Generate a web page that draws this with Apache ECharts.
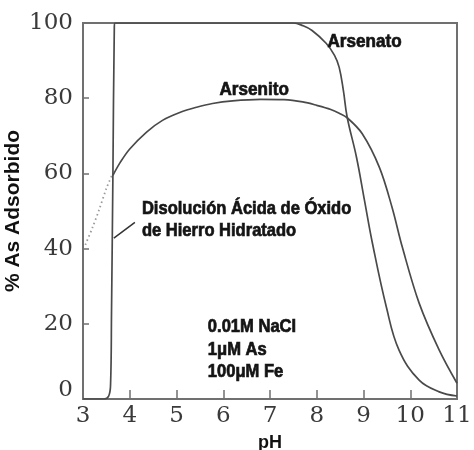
<!DOCTYPE html>
<html>
<head>
<meta charset="utf-8">
<script src="https://cdn.jsdelivr.net/npm/echarts@6/dist/echarts.min.js"></script>
<style>
  html, body { margin: 0; padding: 0; background: #fff; }
  #chart { width: 474px; height: 450px; }
</style>
</head>
<body>
<div id="chart"></div>
<script>
// Adsorption of arsenic species on hydrated iron oxide vs pH
const xTicks = [3, 4, 5, 6, 7, 8, 9, 10, 11];
const yTicks = [0, 20, 40, 60, 80, 100];

// Arsenate (As V) — % adsorbed
const arsenato = [
  [3.0, 0], [3.45, 0], [3.55, 0.8], [3.59, 4], [3.61, 23], [3.64, 60], [3.67, 99],
  [3.69, 100], [7.5, 100], [7.7, 99.3], [7.9, 98], [8.2, 94.6], [8.38, 91.4],
  [8.48, 88.2], [8.57, 82], [8.65, 75], [8.85, 64.3], [9.02, 52.9], [9.19, 41.5],
  [9.49, 24.4], [9.76, 13], [10.19, 5], [10.62, 1.9], [11.0, 0.8]
];

// Arsenite (As III) — % adsorbed
const arsenito = [
  [3.64, 59.5], [3.8, 63], [4.0, 66.5], [4.36, 71], [4.7, 74.1], [5.07, 76.2],
  [5.43, 77.6], [5.77, 78.6], [6.2, 79.3], [6.8, 79.7], [7.3, 79.6], [7.7, 79],
  [8.0, 78.1], [8.3, 77], [8.48, 76], [8.65, 74.8], [8.97, 70.6], [9.34, 61.6],
  [9.61, 51], [9.83, 40.4], [10.19, 25.5], [10.62, 13], [11.0, 4.2]
];

// Dotted extension of the arsenite curve at low pH (oxide dissolution zone)
const arsenitoDisuelto = [[3.05, 41], [3.2, 45.5], [3.35, 50.5], [3.5, 56], [3.62, 59.5]];

const curveLabels = ['Arsenato', 'Arsenito'];
const notaDisolucion = ['Disolución Ácida de Óxido', 'de Hierro Hidratado'];
const condiciones = ['0.01M NaCl', '1μM As', '100μM Fe'];

const chart = echarts.init(document.getElementById('chart'), null, { renderer: 'canvas' });

const serif = '"DejaVu Serif", serif';
const tickFont = { fontFamily: serif, fontSize: 23, color: '#3a3a3a' };

chart.setOption({
  animation: false,
  backgroundColor: '#fff',
  grid: {
    left: 83, right: 17, top: 23, bottom: 51,
    containLabel: false, outerBoundsMode: 'none',
    show: true, borderColor: '#707070', borderWidth: 2, backgroundColor: 'transparent'
  },
  xAxis: {
    type: 'value', min: xTicks[0], max: xTicks[xTicks.length - 1], interval: 1,
    name: 'pH', nameLocation: 'middle', nameGap: 35, nameMoveOverlap: false,
    nameTextStyle: { fontFamily: '"Liberation Sans", sans-serif', fontWeight: 'bold', fontSize: 18, color: '#111' },
    axisLine: { show: true, onZero: false, lineStyle: { color: '#707070', width: 2 } },
    axisTick: { show: true, inside: true, length: 9, lineStyle: { color: '#707070', width: 1.5 } },
    axisLabel: Object.assign({ margin: 6 }, tickFont),
    splitLine: { show: false }
  },
  yAxis: {
    type: 'value', min: yTicks[0], max: yTicks[yTicks.length - 1], interval: 20,
    name: '% As Adsorbido', nameLocation: 'middle', nameGap: 59, nameRotate: 90, nameMoveOverlap: false,
    nameTextStyle: { fontFamily: '"Liberation Sans", sans-serif', fontWeight: 'bold', fontSize: 21, color: '#111' },
    axisLine: { show: true, lineStyle: { color: '#707070', width: 2 } },
    axisTick: { show: true, inside: true, length: 6, lineStyle: { color: '#707070', width: 1.5 } },
    axisLabel: Object.assign({
      margin: 10,
      formatter: v => v === 0 ? '{z|0}' : String(v),
      rich: { z: Object.assign({ padding: [0, 0, 18, 0] }, tickFont) }
    }, tickFont),
    splitLine: { show: false }
  },
  series: [
    {
      name: curveLabels[0], type: 'line', data: arsenato, smooth: 0.4,
      symbol: 'none', lineStyle: { color: '#4a4a4a', width: 1.7 }, z: 3
    },
    {
      name: curveLabels[1], type: 'line', data: arsenito, smooth: 0.35,
      symbol: 'none', lineStyle: { color: '#4a4a4a', width: 1.7 }, z: 3
    },
    {
      name: 'disolucion', type: 'line', data: arsenitoDisuelto, smooth: 0.3, symbol: 'none',
      lineStyle: { color: '#9a9a9a', width: 1.8, type: [1.5, 3] }, z: 2
    }
  ]
});

// Annotations placed in data coordinates and converted to pixels
const px = (x, y) => chart.convertToPixel({ gridIndex: 0 }, [x, y]);
const boldFont = size => 'bold ' + size + 'px "Liberation Sans", Arial, sans-serif';

function label(text, x, y, size, sx) {
  const p = px(x, y);
  return {
    type: 'text', x: p[0], y: p[1], scaleX: sx, z: 10,
    style: {
      text: text, font: boldFont(size), fill: '#141414',
      stroke: '#141414', lineWidth: 0.7,
      textAlign: 'left', textVerticalAlign: 'middle'
    }
  };
}

const a = px(4.11, 47.0), b = px(3.66, 42.8);
chart.setOption({
  graphic: [
    label(curveLabels[0], 8.23, 95.1, 19, 0.9),
    label(curveLabels[1], 5.92, 82.3, 19, 0.9),
    label(notaDisolucion[0], 4.26, 50.6, 19, 0.87),
    label(notaDisolucion[1], 4.26, 44.8, 19, 0.87),
    label(condiciones[0], 5.67, 19.1, 18, 0.92),
    label(condiciones[1], 5.67, 13.0, 18, 0.92),
    label(condiciones[2], 5.67, 7.2, 18, 0.92),
    {
      type: 'line', z: 10,
      shape: { x1: a[0], y1: a[1], x2: b[0], y2: b[1] },
      style: { stroke: '#333', lineWidth: 1.5 }
    }
  ]
});
</script>
</body>
</html>
